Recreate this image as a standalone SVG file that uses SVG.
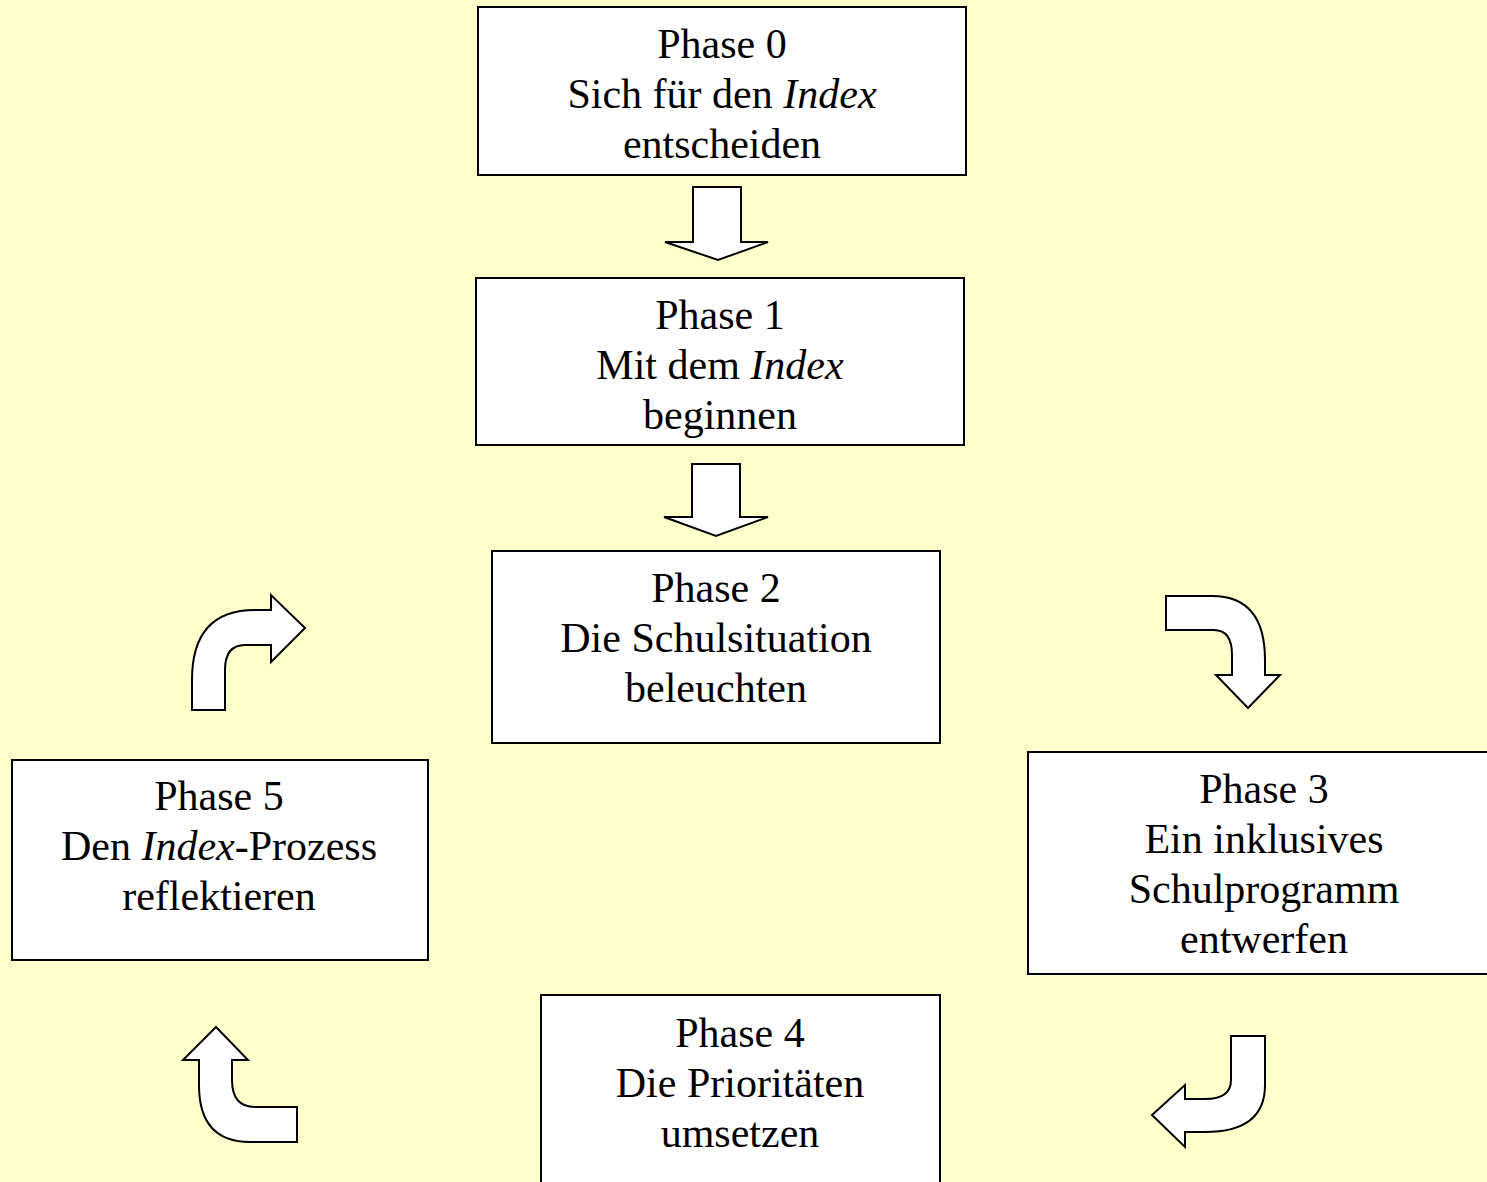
<svg xmlns="http://www.w3.org/2000/svg" width="1487" height="1182" viewBox="0 0 1487 1182">
<style>
.box{fill:#fff;stroke:#000;stroke-width:2}
.arr{fill:#fff;stroke:#000;stroke-width:2;stroke-linejoin:miter}
text{font-family:"Liberation Serif","Times New Roman",serif;font-size:42px;fill:#000;text-anchor:middle}
.it{font-style:italic}
</style>
<rect x="0" y="0" width="1487" height="1182" fill="#FFFFCC"/>
<g id="connectors">
<path class="arr" d="M693,187 L741,187 L741,242 L768,242 L718,260 L665,242 L693,242 Z"/>
<path class="arr" d="M692,464 L740,464 L740,517 L768,517 L716,536 L664,517 L692,517 Z"/>
<path class="arr" d="M1166,596 L1212,596 Q1265,596 1265,660 L1265,675 L1280,675 L1248,708 L1216,675 L1232,675 L1232,655 Q1232,630 1214,630 L1166,630 Z"/>
<path class="arr" d="M1231,1036 L1265,1036 L1265,1085 Q1265,1132 1205,1132 L1185,1132 L1185,1147 L1152,1115 L1185,1085 L1185,1099 L1205,1099 Q1231,1099 1231,1080 Z"/>
<path class="arr" d="M216,1027 L248,1060 L232,1060 L232,1080 Q232,1107 255,1107 L297,1107 L297,1142 L250,1142 Q199,1142 199,1085 L199,1060 L183,1060 Z"/>
<path class="arr" d="M192,710 L192,680 Q192,610 255,610 L271,610 L271,595 L305,628 L271,662 L271,645 L245,645 Q225,645 225,670 L225,710 Z"/>
</g>
<g id="phase0">
<rect class="box" x="478" y="7" width="488" height="168"/>
<text x="722" y="58">Phase 0</text>
<text x="722" y="108">Sich für den <tspan class="it">Index</tspan></text>
<text x="722" y="158">entscheiden</text>
</g>
<g id="phase1">
<rect class="box" x="476" y="278" width="488" height="167"/>
<text x="720" y="329">Phase 1</text>
<text x="720" y="379">Mit dem <tspan class="it">Index</tspan></text>
<text x="720" y="429">beginnen</text>
</g>
<g id="phase2">
<rect class="box" x="492" y="551" width="448" height="192"/>
<text x="716" y="602">Phase 2</text>
<text x="716" y="652">Die Schulsituation</text>
<text x="716" y="702">beleuchten</text>
</g>
<g id="phase3">
<rect class="box" x="1028" y="752" width="472" height="222"/>
<text x="1264" y="803">Phase 3</text>
<text x="1264" y="853">Ein inklusives</text>
<text x="1264" y="903">Schulprogramm</text>
<text x="1264" y="953">entwerfen</text>
</g>
<g id="phase4">
<rect class="box" x="541" y="995" width="399" height="200"/>
<text x="740" y="1047">Phase 4</text>
<text x="740" y="1097">Die Prioritäten</text>
<text x="740" y="1147">umsetzen</text>
</g>
<g id="phase5">
<rect class="box" x="12" y="760" width="416" height="200"/>
<text x="219" y="810">Phase 5</text>
<text x="219" y="860">Den <tspan class="it">Index</tspan>-Prozess</text>
<text x="219" y="910">reflektieren</text>
</g>
</svg>
